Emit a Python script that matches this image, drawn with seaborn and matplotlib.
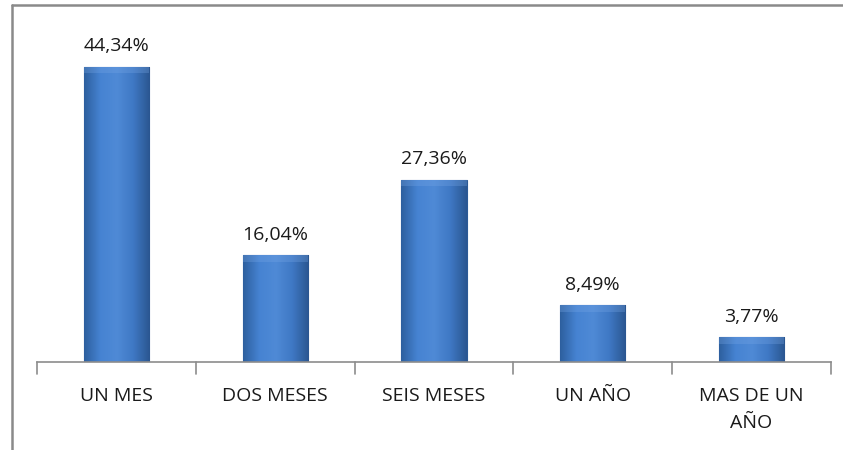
import numpy as np
import pandas as pd
import matplotlib
matplotlib.use("Agg")
import matplotlib.pyplot as plt
import seaborn as sns
from matplotlib.colors import LinearSegmentedColormap
from matplotlib.lines import Line2D

categories = ["UN MES", "DOS MESES", "SEIS MESES", "UN AÑO", "MAS DE UN\nAÑO"]
values = [44.34, 16.04, 27.36, 8.49, 3.77]
labels = ["44,34%", "16,04%", "27,36%", "8,49%", "3,77%"]

df = pd.DataFrame({"cat": categories, "val": values})

sns.set_style("white")
plt.rcParams['font.family'] = ['Open Sans', 'DejaVu Sans']

fig = plt.figure(figsize=(8.43, 4.5), dpi=100)
ax = fig.add_axes([37 / 843, (450 - 362) / 450, (831 - 37) / 843, (362 - 29) / 450])

sns.barplot(data=df, x="cat", y="val", color="#3f77c2", width=0.41, ax=ax,
            edgecolor="#2c5a96", linewidth=0.8)

# excel-like gradient fill on each bar
cmap = LinearSegmentedColormap.from_list(
    "bevel", ["#2d5f9e", "#4683d2", "#4f8ad6", "#3f78c4", "#2a5690"])
grad = np.linspace(0, 1, 256).reshape(1, -1)
for p in ax.patches:
    x0, y0 = p.get_x(), p.get_y()
    w, h = p.get_width(), p.get_height()
    im = ax.imshow(grad, cmap=cmap, aspect="auto", extent=[x0, x0 + w, y0, y0 + h],
                   zorder=p.get_zorder() + 0.1)
    im.set_clip_path(p)
    # soft top bevel
    ax.fill_between([x0, x0 + w], y0 + h - 1.0, y0 + h, color="#79a8e6", alpha=0.3,
                    zorder=p.get_zorder() + 0.2, linewidth=0)

ax.set_xlim(-0.5, len(categories) - 0.5)
ax.set_ylim(0, 50)

for i, (v, lab) in enumerate(zip(values, labels)):
    ax.text(i, v + 1.7, lab, ha="center", va="bottom", fontsize=14, color="#1a1a1a")

for s in ["top", "right", "left"]:
    ax.spines[s].set_visible(False)
ax.spines["bottom"].set_color("#8c8c8c")
ax.spines["bottom"].set_linewidth(1.2)
ax.set_yticks([])
ax.set_xticks(range(len(categories)))
ax.set_xticklabels(categories, fontsize=14, color="#1a1a1a", linespacing=1.65)
ax.tick_params(axis="x", length=0, pad=18)
for b in np.arange(-0.5, len(categories), 1):
    ax.plot([b, b], [0, -1.8], color="#8c8c8c", lw=1.2, clip_on=False)
ax.set_xlabel("")
ax.set_ylabel("")

# chart frame (left and top edges visible)
fig.add_artist(Line2D([12 / 843, 12 / 843], [0, 1 - 5 / 450], color="#8a8a8a", lw=1.8,
                      transform=fig.transFigure))
fig.add_artist(Line2D([12 / 843, 1], [1 - 5 / 450, 1 - 5 / 450], color="#8a8a8a", lw=1.8,
                      transform=fig.transFigure))

fig.savefig("out.png", dpi=100)
